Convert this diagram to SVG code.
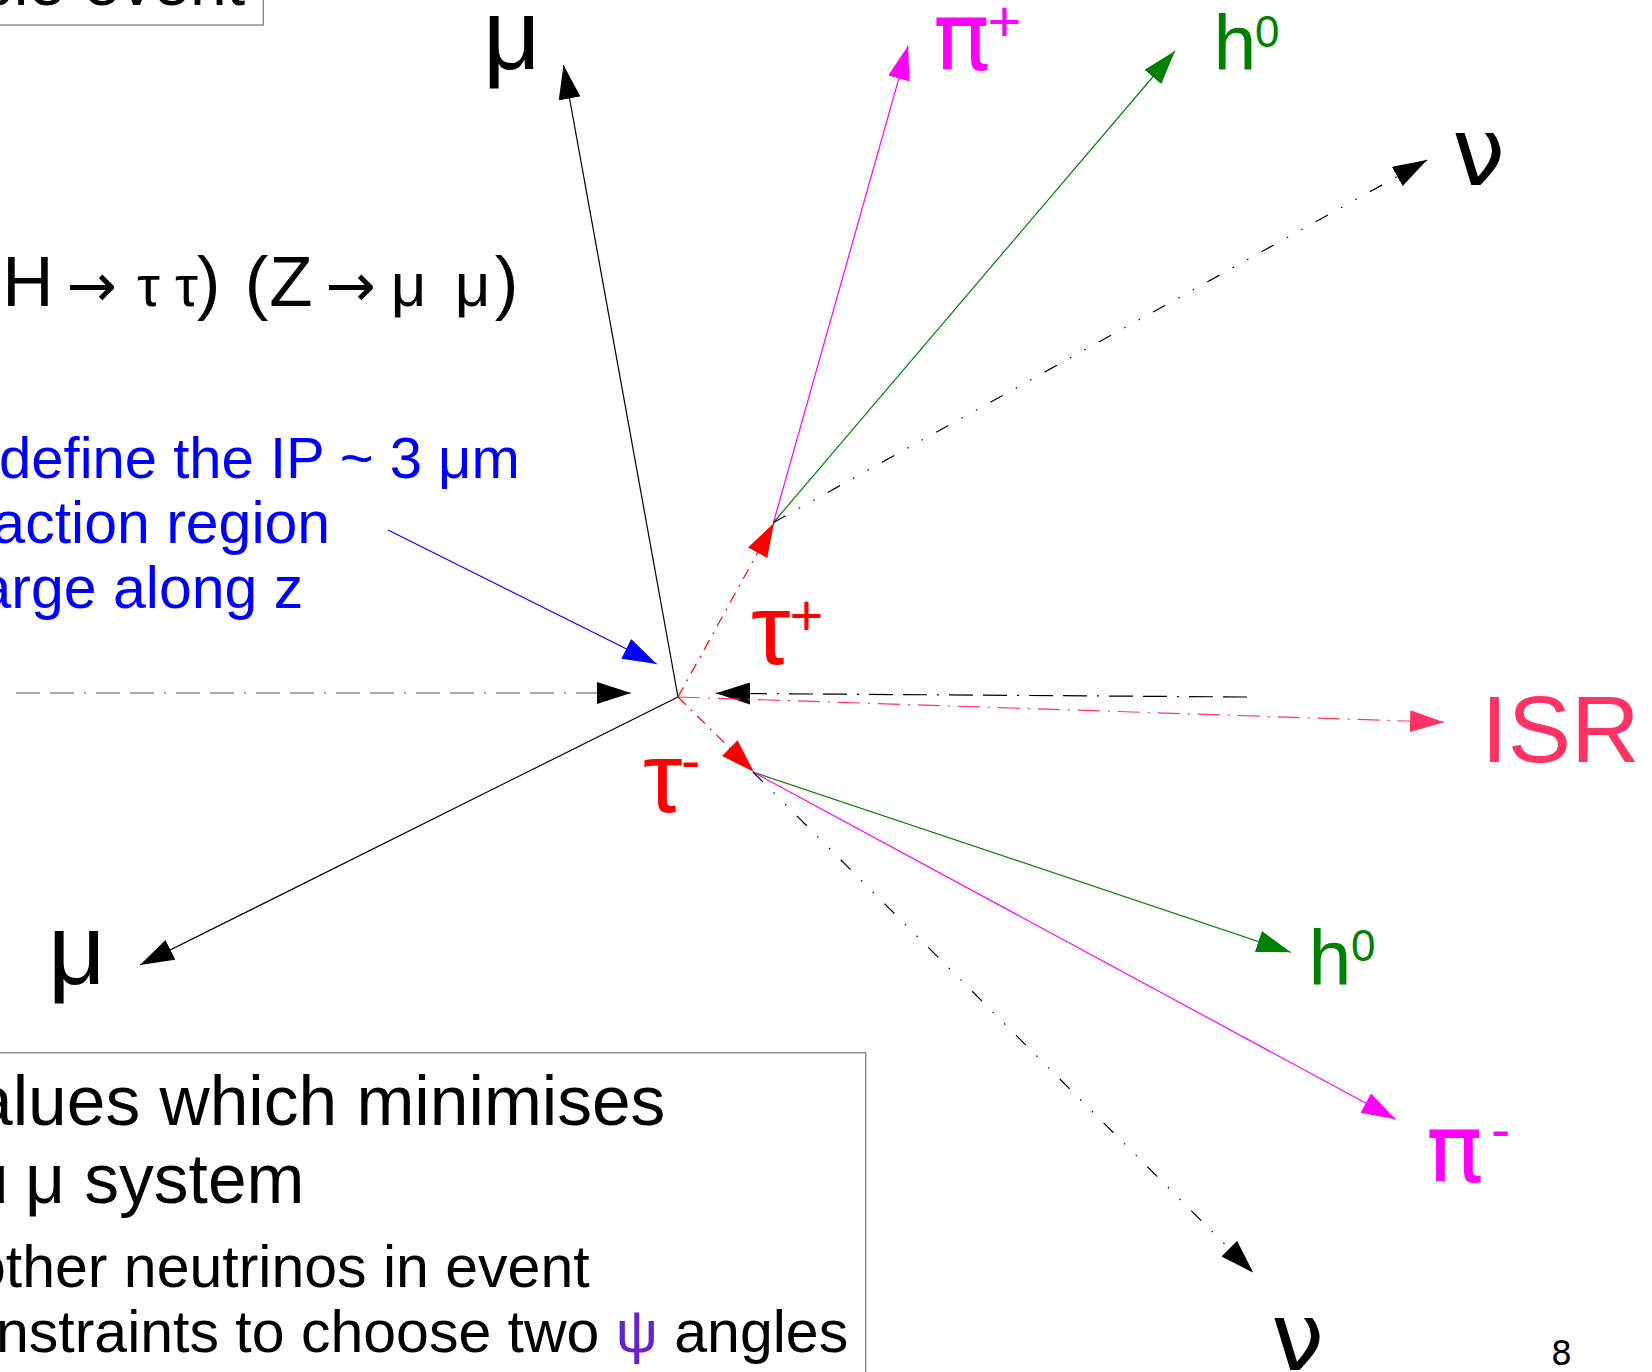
<svg xmlns="http://www.w3.org/2000/svg" width="1652" height="1372" viewBox="0 0 1652 1372">
<style>
  .sans { font-family: "Liberation Sans", Arial, sans-serif; }
  .greek { font-family: "DejaVu Sans", "Liberation Sans", sans-serif; }
  .box { fill: #ffffff; stroke: #808080; stroke-width: 1.3; }
  .ln { fill: none; stroke-width: 1.2; }
  .k { stroke: #000000; }
  .blue { stroke: #0000ff; }
  .red { stroke: #ff0000; }
  .mag { stroke: #ff00ff; }
  .grn { stroke: #008000; }
  .pink { stroke: #ff3366; }
  .gray { stroke: #505050; }
  .dd { stroke-dasharray: 24 10 24 10 2 10; }
  .tau { stroke-dasharray: 11 7 2 7; }
  .nu { stroke-dasharray: 14 15 1.5 15 1.5 15; }
  .isr { stroke-dasharray: 22 8 2 8; }
</style>
<defs>
  <marker id="ah-k" markerUnits="userSpaceOnUse" viewBox="0 0 34 22" markerWidth="34" markerHeight="22" refX="34" refY="11" orient="auto"><path d="M0,0 L34,11 L0,22 z" fill="#000000"/></marker>
  <marker id="ah-b" markerUnits="userSpaceOnUse" viewBox="0 0 34 22" markerWidth="34" markerHeight="22" refX="34" refY="11" orient="auto"><path d="M0,0 L34,11 L0,22 z" fill="#0000ff"/></marker>
  <marker id="ah-r" markerUnits="userSpaceOnUse" viewBox="0 0 34 22" markerWidth="34" markerHeight="22" refX="34" refY="11" orient="auto"><path d="M0,0 L34,11 L0,22 z" fill="#ff0000"/></marker>
  <marker id="ah-m" markerUnits="userSpaceOnUse" viewBox="0 0 34 22" markerWidth="34" markerHeight="22" refX="34" refY="11" orient="auto"><path d="M0,0 L34,11 L0,22 z" fill="#ff00ff"/></marker>
  <marker id="ah-g" markerUnits="userSpaceOnUse" viewBox="0 0 34 22" markerWidth="34" markerHeight="22" refX="34" refY="11" orient="auto"><path d="M0,0 L34,11 L0,22 z" fill="#008000"/></marker>
  <marker id="ah-p" markerUnits="userSpaceOnUse" viewBox="0 0 34 22" markerWidth="34" markerHeight="22" refX="34" refY="11" orient="auto"><path d="M0,0 L34,11 L0,22 z" fill="#ff3366"/></marker>
</defs>
<rect width="1652" height="1372" fill="#ffffff"/>

<g id="title-box">
  <rect class="box" x="-10" y="-60" width="273.3" height="85"/>
  <text class="sans" x="245" y="5" font-size="66" text-anchor="end" fill="#000000">ble event</text>
</g>

<g id="summary-box">
  <rect class="box" x="-10" y="1052.7" width="875.7" height="400"/>
  <text class="sans" font-size="69.5" fill="#000000"><tspan x="-26" y="1125">alues which minimises</tspan><tspan x="-31" y="1203">μ</tspan><tspan x="25" y="1203">μ system</tspan></text>
  <text class="sans" font-size="59" fill="#000000"><tspan x="-27" y="1287">other neutrinos in event</tspan><tspan x="-4" y="1352">nstraints to choose two <tspan fill="#6622cc">ψ</tspan> angles</tspan></text>
</g>

<g id="formula">
  <text font-size="71" fill="#000000" class="sans" y="306" text-anchor="middle"><tspan x="28">H</tspan><tspan class="greek" font-size="60" x="92">→</tspan><tspan font-size="58" x="148.5">τ</tspan><tspan font-size="58" x="186.5">τ</tspan><tspan x="208.5">)</tspan><tspan x="256.5">(</tspan><tspan x="291">Z</tspan><tspan class="greek" font-size="60" x="351">→</tspan><tspan font-size="62" x="408.5">μ</tspan><tspan font-size="62" x="472.5">μ</tspan><tspan x="506.5">)</tspan></text>
</g>

<g id="ip-note">
  <text class="sans" fill="#0000ff"><tspan font-size="58" x="-1" y="478">define the IP ~ 3 μm</tspan><tspan font-size="59" x="-7.7" y="543">action region</tspan><tspan font-size="59" x="-21.5" y="608">arge along z</tspan></text>
</g>

<g id="connectors">
  <line id="beam-left" class="ln gray dd" stroke-width="2" x1="16" y1="693" x2="631" y2="693" marker-end="url(#ah-k)"/>
  <line id="beam-right" class="ln k dd" stroke-width="1.6" x1="1247" y1="697" x2="716" y2="693.3" marker-end="url(#ah-k)"/>
  <line id="mu-top" class="ln k" x1="678" y1="697" x2="563.5" y2="65" marker-end="url(#ah-k)"/>
  <line id="mu-bottom" class="ln k" x1="678" y1="697" x2="140" y2="965" marker-end="url(#ah-k)"/>
  <line id="ip-pointer" class="ln blue" x1="388" y1="530" x2="656.7" y2="664" marker-end="url(#ah-b)"/>
  <line id="isr-line" class="ln pink isr" x1="678" y1="697" x2="1444" y2="722.3" marker-end="url(#ah-p)"/>
  <line id="tau-plus-line" class="ln red tau" x1="678" y1="697" x2="774" y2="523" marker-end="url(#ah-r)"/>
  <line id="tau-minus-line" class="ln red tau" x1="678" y1="697" x2="754" y2="772" marker-end="url(#ah-r)"/>
  <line id="pi-plus-line" class="ln mag" x1="773.5" y1="522.5" x2="908.1" y2="45.7" marker-end="url(#ah-m)"/>
  <line id="h0-top-line" class="ln grn" x1="773.5" y1="522.5" x2="1174.9" y2="51" marker-end="url(#ah-g)"/>
  <line id="nu-top-line" class="ln k nu" x1="773.5" y1="522.5" x2="1427" y2="160" marker-end="url(#ah-k)"/>
  <line id="h0-bottom-line" class="ln grn" x1="753" y1="772" x2="1290.7" y2="952.3" marker-end="url(#ah-g)"/>
  <line id="pi-minus-line" class="ln mag" x1="753" y1="772" x2="1395.7" y2="1119.3" marker-end="url(#ah-m)"/>
  <line id="nu-bottom-line" class="ln k nu" x1="753" y1="772" x2="1253.3" y2="1272.7" marker-end="url(#ah-k)"/>
</g>

<g id="label-mu-top"><text class="sans" font-size="100" x="483" y="69" fill="#000000">μ</text></g>
<g id="label-mu-bottom"><text class="sans" font-size="100" x="48" y="984" fill="#000000">μ</text></g>
<g id="label-pi-plus"><text class="greek" font-size="95" x="933" y="70" fill="#ff00ff">π<tspan class="sans" font-size="58" x="987.5" y="40.7">+</tspan></text></g>
<g id="label-h0-top"><text class="sans" font-size="77" x="1213.6" y="70" fill="#008000">h<tspan font-size="44" x="1255" y="47">0</tspan></text></g>
<g id="label-nu-top"><text class="greek" font-size="95" x="1452" y="185" fill="#000000">ν</text></g>
<g id="label-tau-plus"><text class="sans" font-size="100" x="751" y="664" fill="#ff0000">τ<tspan font-size="58" x="789.5" y="634.7">+</tspan></text></g>
<g id="label-tau-minus"><text class="sans" font-size="100" x="643" y="812" fill="#ff0000">τ<tspan font-size="58" x="681" y="780">-</tspan></text></g>
<g id="label-isr"><text class="sans" font-size="95" x="1481.3" y="762" fill="#ff3366">ISR</text></g>
<g id="label-h0-bottom"><text class="sans" font-size="77" x="1308.6" y="985" fill="#008000">h<tspan font-size="44" x="1351" y="961">0</tspan></text></g>
<g id="label-pi-minus"><text class="greek" font-size="95" x="1426" y="1182" fill="#ff00ff">π<tspan class="sans" font-size="58" x="1491" y="1149">-</tspan></text></g>
<g id="label-nu-bottom"><text class="greek" font-size="95" x="1271" y="1370" fill="#000000">ν</text></g>
<g id="page-number"><text class="greek" font-size="33" x="1551" y="1365" fill="#000000">8</text></g>
</svg>
